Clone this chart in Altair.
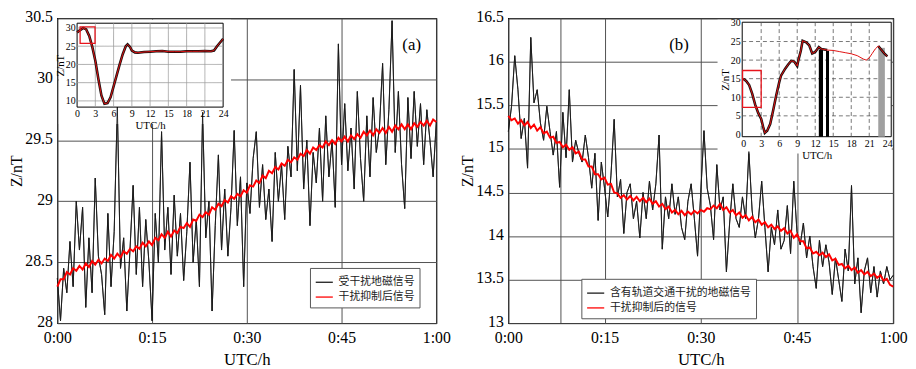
import altair as alt
import pandas as pd

SERIF = "Liberation Serif"
CJK = "Noto Sans CJK SC"

# ---------------- data ----------------
t_min = [i * 0.5 for i in range(121)]

a_labels = ["受干扰地磁信号", "干扰抑制后信号"]
b_labels = ["含有轨道交通干扰的地磁信号", "干扰抑制后的信号"]

a_black = [28.37, 28.02, 28.45, 28.25, 28.67, 28.3, 29.0, 28.6, 28.95, 28.13,
           28.7, 28.25, 29.19, 28.55, 28.4, 28.07, 28.9, 28.3, 28.75, 29.78,
           28.45, 28.7, 28.1, 28.6, 29.13, 28.4, 28.95, 28.3, 28.85, 28.5,
           28.02, 28.9, 28.5, 29.57, 28.6, 28.95, 28.4, 29.05, 28.55, 28.9,
           28.35, 28.75, 29.32, 28.5, 28.85, 28.3, 29.73, 28.7, 29.0, 28.1,
           28.8, 29.38, 28.6, 29.1, 28.55, 28.95, 29.58, 28.8, 29.2, 28.3,
           29.15, 28.9, 29.35, 29.57, 28.95, 29.3, 28.85, 29.1, 28.67, 29.4,
           29.0, 29.3, 28.85, 29.45, 29.2, 30.08, 29.25, 29.95, 29.1, 29.5,
           28.8, 29.4, 29.15, 29.6, 29.0, 29.7, 29.2, 29.5, 28.95, 30.29,
           29.3, 29.8, 29.25, 29.6, 29.1, 29.9, 29.35, 29.0, 29.7, 29.2,
           29.85, 29.4, 29.6, 30.13, 29.3, 29.75, 30.48, 29.4, 29.9, 29.3,
           28.94, 29.85, 29.35, 29.9, 29.45, 29.8, 29.3, 29.75, 29.5, 29.2,
           29.65]

a_red = [28.30, 28.36, 28.36, 28.42, 28.40, 28.45, 28.43, 28.47, 28.44, 28.49,
         28.46, 28.51, 28.48, 28.52, 28.49, 28.53, 28.51, 28.56, 28.53, 28.57,
         28.54, 28.59, 28.57, 28.61, 28.59, 28.63, 28.61, 28.66, 28.63, 28.67,
         28.64, 28.70, 28.68, 28.73, 28.70, 28.75, 28.71, 28.76, 28.74, 28.79,
         28.78, 28.82, 28.79, 28.85, 28.84, 28.89, 28.87, 28.91, 28.89, 28.95,
         28.93, 28.98, 28.96, 29.01, 28.99, 29.04, 29.02, 29.06, 29.04, 29.09,
         29.07, 29.13, 29.12, 29.17, 29.15, 29.21, 29.19, 29.25, 29.23, 29.28,
         29.26, 29.31, 29.29, 29.34, 29.32, 29.36, 29.34, 29.39, 29.37, 29.42,
         29.39, 29.44, 29.42, 29.46, 29.44, 29.49, 29.46, 29.50, 29.47, 29.52,
         29.49, 29.53, 29.49, 29.54, 29.51, 29.55, 29.52, 29.57, 29.54, 29.58,
         29.54, 29.59, 29.56, 29.60, 29.56, 29.61, 29.57, 29.62, 29.59, 29.63,
         29.59, 29.63, 29.59, 29.64, 29.61, 29.65, 29.62, 29.66, 29.62, 29.67,
         29.65]

b_black = [15.2, 15.49, 16.07, 15.68, 15.12, 15.35, 14.78, 16.28, 15.53, 15.68,
           15.3, 15.1, 15.49, 15.2, 14.93, 15.2, 14.56, 15.42, 14.9, 15.68,
           14.85, 15.1, 14.95, 14.85, 15.16, 14.9, 14.55, 14.95, 14.18, 14.85,
           14.55, 14.22, 14.7, 15.34, 14.45, 14.65, 14.03, 14.5, 14.6, 14.2,
           14.4, 13.98, 14.5, 14.2, 14.63, 14.3, 14.6, 15.16, 13.85, 14.45,
           14.2, 14.6, 14.25, 14.45, 14.1, 13.96, 14.4, 14.6, 14.2, 13.77,
           14.5, 15.21, 14.55, 14.35, 13.96, 14.82, 14.3, 14.45, 13.59, 14.15,
           14.6, 14.2, 14.1, 14.45, 14.2, 14.97, 14.3, 13.98, 14.2, 14.63,
           14.1, 13.59, 14.1, 13.9, 14.3, 13.85, 13.95, 14.35, 13.8, 14.63,
           14.05, 13.9, 14.15, 13.75, 14.0, 13.65, 13.4, 13.95, 13.65, 13.9,
           13.7, 13.33, 13.75, 13.5, 13.25, 13.85, 13.6, 14.58, 13.45, 13.75,
           13.12, 13.6, 13.75, 13.35, 13.65, 13.3, 13.6, 13.45, 13.65, 13.5,
           13.55]

b_red = [15.38, 15.33, 15.35, 15.29, 15.33, 15.27, 15.31, 15.24, 15.28, 15.21,
         15.25, 15.18, 15.20, 15.13, 15.14, 15.07, 15.08, 15.02, 15.05, 14.99,
         15.02, 14.95, 14.97, 14.88, 14.88, 14.80, 14.80, 14.71, 14.71, 14.65,
         14.67, 14.59, 14.60, 14.50, 14.49, 14.44, 14.47, 14.42, 14.46, 14.41,
         14.45, 14.40, 14.44, 14.39, 14.43, 14.37, 14.40, 14.34, 14.37, 14.31,
         14.34, 14.27, 14.30, 14.25, 14.29, 14.24, 14.28, 14.25, 14.29, 14.26,
         14.30, 14.28, 14.32, 14.31, 14.35, 14.32, 14.37, 14.30, 14.33, 14.27,
         14.30, 14.24, 14.27, 14.21, 14.24, 14.18, 14.22, 14.16, 14.19, 14.13,
         14.16, 14.10, 14.13, 14.08, 14.11, 14.06, 14.09, 14.03, 14.06, 13.98,
         14.02, 13.94, 13.94, 13.86, 13.87, 13.80, 13.82, 13.78, 13.81, 13.76,
         13.79, 13.72, 13.74, 13.67, 13.68, 13.63, 13.66, 13.61, 13.64, 13.58,
         13.61, 13.56, 13.59, 13.54, 13.57, 13.52, 13.55, 13.49, 13.51, 13.44,
         13.42]

# inset (a): whole day
ia_t = [0, 0.5, 1, 1.5, 2, 2.5, 3, 3.5, 4, 4.5, 5, 5.5, 6, 6.5, 7, 7.5, 8, 8.3, 8.7,
        9, 9.5, 10, 11, 12, 13, 14, 15, 16, 17, 18, 19, 20, 21, 22, 22.5, 23, 23.5, 24]
ia_z = [28.8, 29.4, 30.0, 29.6, 27.8, 24.8, 21.0, 16.0, 11.5, 9.2, 9.4, 11.0, 14.0,
        17.0, 20.0, 22.8, 25.0, 25.5, 24.8, 23.8, 23.3, 23.2, 23.4, 23.5, 23.6, 23.7,
        23.5, 23.5, 23.5, 23.6, 23.6, 23.6, 23.7, 23.6, 23.8, 25.0, 26.0, 27.0]
ia_box = {"x0": [0.5], "x1": [2.95], "y0": [25.8], "y1": [30.3]}

# inset (b): whole day
ib_t = [0, 0.5, 1, 1.5, 2, 2.5, 3, 3.3, 3.6, 4, 4.5, 5, 5.5, 6, 6.3, 7, 7.5, 8, 8.5,
        9, 9.2, 9.6, 9.9, 10.5, 11, 11.5, 12, 12.6, 13, 14, 15, 16, 17, 18, 19, 20,
        20.5, 21, 21.5, 22, 22.5, 23, 23.5, 24]
ib_z = [15.0, 14.4, 13.3, 11.0, 8.0, 5.8, 4.2, 2.2, 0.4, 1.0, 2.8, 6.5, 10.5, 14.0,
        15.8, 17.7, 18.8, 19.8, 19.6, 18.4, 20.0, 22.5, 25.2, 24.8, 24.0, 21.8, 22.2,
        23.5, 23.0, 22.7, 22.6, 22.3, 22.0, 21.7, 21.2, 20.3, 20.0, 20.6, 21.8, 23.0,
        23.8, 22.8, 21.8, 21.0]
ib_box = {"x0": [-0.1], "x1": [3.0], "y0": [7.3], "y1": [17.2]}
ib_bars = {"x0": [12.6, 13.8], "x1": [13.3, 14.3], "top": [22.8, 22.5]}
ib_gray = {"x0": [22.5], "x1": [23.6], "top": [23.3]}
b_extra_rule = [8.2]

W_A, W_B, H = 384, 390, 309


def minute_label():
    return ("datum.value == 60 ? '1:00' : (datum.value == 0 ? '0:00' : '0:' + datum.value)")


def main_layers(black, red, labels, ydom, yvals, legend_xy, white_box, tag, tag_tz,
                extra_rule=None):
    def xs():
        return alt.Scale(domain=[0, 60], nice=False, zero=False)

    def ys():
        return alt.Scale(domain=ydom, nice=False, zero=False)

    xax = alt.Axis(values=[0, 15, 30, 45, 60], labelExpr=minute_label(), orient="bottom",
                   grid=True, gridColor="#505050", gridWidth=1, ticks=False, domain=False,
                   labelFont=SERIF, labelFontSize=16, labelColor="black", labelPadding=7,
                   labelFlush=False, labelOverlap=False, title="UTC/h", titleFont=SERIF,
                   titleFontSize=17, titleFontWeight="normal", titleColor="black",
                   titlePadding=6)
    yax = alt.Axis(values=yvals, format=".1~f", orient="left", grid=True,
                   gridColor="#505050", gridWidth=1, ticks=False, domain=False,
                   labelFont=SERIF, labelFontSize=16, labelColor="black", labelPadding=5,
                   labelOffset=-2, labelOverlap=False, title="Z/nT", titleFont=SERIF,
                   titleFontSize=16, titleFontWeight="normal", titleColor="black",
                   titlePadding=0)
    cscale = alt.Scale(domain=labels, range=["#1a1a1a", "#ff0000"])
    leg = alt.Legend(title=None, orient="none", legendX=legend_xy[0], legendY=legend_xy[1],
                     symbolType="stroke", symbolSize=300, symbolStrokeWidth=1.3,
                     labelFont=CJK, labelFontSize=11, labelColor="#222",
                     fillColor="white", strokeColor="#555", padding=5, rowPadding=0,
                     labelOffset=5)
    df_b = pd.DataFrame({"t": t_min, "z": black, "s": labels[0]})
    df_r = pd.DataFrame({"t": t_min, "z": red, "s": labels[1]})
    layers = []
    # black line first: carries the main axes (with grid)
    layers.append(
        alt.Chart(df_b).mark_line(strokeWidth=0.9)
        .encode(x=alt.X("t:Q", scale=xs(), axis=xax), y=alt.Y("z:Q", scale=ys(), axis=yax),
                color=alt.Color("s:N", scale=cscale, legend=leg))
    )
    layers.append(
        alt.Chart(pd.DataFrame({"k": [0]})).mark_rect(fill="white", strokeOpacity=0)
        .encode(x=alt.value(white_box[0]), x2=alt.value(white_box[1]),
                y=alt.value(white_box[2]), y2=alt.value(white_box[3]))
    )
    if extra_rule is not None:
        layers.append(
            alt.Chart(pd.DataFrame({"t": extra_rule})).mark_rule(color="#505050", strokeWidth=1)
            .encode(x=alt.X("t:Q", scale=xs(), axis=None))
        )
    # redraw black line over the white box
    layers.append(
        alt.Chart(df_b).mark_line(strokeWidth=0.9)
        .encode(x=alt.X("t:Q", scale=xs(), axis=None), y=alt.Y("z:Q", scale=ys(), axis=None),
                color=alt.Color("s:N", scale=cscale, legend=leg))
    )
    layers.append(
        alt.Chart(df_r).mark_line(strokeWidth=2.0)
        .encode(x=alt.X("t:Q", scale=xs(), axis=None), y=alt.Y("z:Q", scale=ys(), axis=None),
                color=alt.Color("s:N", scale=cscale, legend=leg))
    )
    layers.append(
        alt.Chart(pd.DataFrame({"t": [tag_tz[0]], "z": [tag_tz[1]], "txt": [tag]}))
        .mark_text(font=SERIF, fontSize=17, color="black")
        .encode(x=alt.X("t:Q", scale=xs(), axis=None), y=alt.Y("z:Q", scale=ys(), axis=None),
                text="txt:N")
    )
    return layers


def inset_layers(t, z, black_df, xdom, xr, ydom, yr, xticks, yticks, xgrid, ygrid, dash,
                 gridcolor, box, bars=None, gray=None):
    def xs():
        return alt.Scale(domain=xdom, range=xr, nice=False, zero=False)

    def ys():
        return alt.Scale(domain=ydom, range=yr, nice=False, zero=False)

    xax = alt.Axis(values=xticks, orient="bottom", offset=yr[0] - H, grid=False,
                   ticks=False, domain=False, labelFont=SERIF, labelFontSize=10,
                   labelColor="black", labelPadding=2, labelFlush=False,
                   labelOverlap=False, title="UTC/h", titleFont=SERIF, titleFontSize=11,
                   titleFontWeight="normal", titleColor="black", titlePadding=1, zindex=1)
    yax = alt.Axis(values=yticks, orient="left", offset=-xr[0], grid=False, ticks=False,
                   domain=False, labelFont=SERIF, labelFontSize=10, labelColor="black",
                   labelPadding=2, labelOverlap=False, title="Z/nT", titleFont=SERIF,
                   titleFontSize=11, titleFontWeight="normal", titleColor="black",
                   titlePadding=0, zindex=1)
    layers = []
    layers.append(
        alt.Chart(pd.DataFrame({"k": [0]})).mark_rect(fill="white", stroke="black",
                                                       strokeWidth=1)
        .encode(x=alt.value(xr[0]), x2=alt.value(xr[1]), y=alt.value(yr[1]),
                y2=alt.value(yr[0]))
    )
    layers.append(
        alt.Chart(pd.DataFrame({"g": xgrid})).mark_rule(color=gridcolor, strokeWidth=0.8,
                                                      strokeDash=dash)
        .encode(x=alt.X("g:Q", scale=xs(), axis=None), y=alt.value(yr[1]), y2=alt.value(yr[0]))
    )
    layers.append(
        alt.Chart(pd.DataFrame({"g": ygrid})).mark_rule(color=gridcolor, strokeWidth=0.8,
                                                      strokeDash=dash)
        .encode(y=alt.Y("g:Q", scale=ys(), axis=None), x=alt.value(xr[0]), x2=alt.value(xr[1]))
    )
    if gray is not None:
        gdf = pd.DataFrame(gray)
        gdf["bot"] = ydom[0]
        layers.append(
            alt.Chart(gdf).mark_rect(color="#a0a0a0")
            .encode(x=alt.X("x0:Q", scale=xs(), axis=None), x2="x1:Q",
                    y=alt.Y("top:Q", scale=ys(), axis=None), y2="bot:Q")
        )
    if bars is not None:
        bdf = pd.DataFrame(bars)
        bdf["bot"] = ydom[0]
        layers.append(
            alt.Chart(bdf).mark_rect(color="black")
            .encode(x=alt.X("x0:Q", scale=xs(), axis=None), x2="x1:Q",
                    y=alt.Y("top:Q", scale=ys(), axis=None), y2="bot:Q")
        )
    layers.append(
        alt.Chart(black_df).mark_line(color="#1a1010", strokeWidth=2.6)
        .encode(x=alt.X("t:Q", scale=xs(), axis=xax), y=alt.Y("z:Q", scale=ys(), axis=yax),
                detail="seg:N")
    )
    layers.append(
        alt.Chart(pd.DataFrame({"t": t, "z": z})).mark_line(color="#e01010", strokeWidth=1)
        .encode(x=alt.X("t:Q", scale=xs(), axis=None), y=alt.Y("z:Q", scale=ys(), axis=None))
    )
    layers.append(
        alt.Chart(pd.DataFrame(box)).mark_rect(fillOpacity=0, stroke="#e8141c",
                                               strokeWidth=1.3)
        .encode(x=alt.X("x0:Q", scale=xs(), axis=None), x2="x1:Q",
                y=alt.Y("y0:Q", scale=ys(), axis=None), y2="y1:Q")
    )
    return layers


# ---------- panel (a) ----------
la = main_layers(a_black, a_red, a_labels, [28, 30.5],
                 [28, 28.5, 29, 29.5, 30, 30.5], (256, 253), (1.5, 176, 1.5, 107),
                 "(a)", (56.1, 30.28))
ia_black = pd.DataFrame({"t": ia_t, "z": ia_z, "seg": 0})
la += inset_layers(ia_t, ia_z, ia_black, [0, 24], [20, 168], [8.3, 31.3], [90, 5],
                   list(range(0, 25, 3)), [10, 15, 20, 25, 30], list(range(3, 22, 3)),
                   [10, 15, 20, 25, 30], [1, 0], "#9a9a9a", ia_box)
panel_a = alt.layer(*la).resolve_scale(
    x="independent", y="independent", color="shared").properties(width=W_A, height=H)

# ---------- panel (b) ----------
lb = main_layers(b_black, b_red, b_labels, [13, 16.5],
                 [13, 13.5, 14, 14.5, 15, 15.5, 16, 16.5], (74, 264),
                 (212, 388.5, 1.5, 137), "(b)", (26.6, 16.19), extra_rule=b_extra_rule)
ib_df = pd.DataFrame({"t": ib_t, "z": ib_z})
ib_black = pd.concat([
    ib_df[ib_df["t"] <= 14.5].assign(seg=0),
    ib_df[ib_df["t"] >= 22.5].assign(seg=1),
])
lb += inset_layers(ib_t, ib_z, ib_black, [-0.16, 24.66], [237, 388], [-0.61, 30.19],
                   [120, 4], list(range(0, 25, 3)), [0, 5, 10, 15, 20, 25, 30],
                   list(range(3, 22, 3)), [5, 10, 15, 20, 25], [4, 3], "#555555",
                   ib_box, bars=ib_bars, gray=ib_gray)
panel_b = alt.layer(*lb).resolve_scale(
    x="independent", y="independent", color="shared").properties(width=W_B, height=H)

chart = alt.hconcat(panel_a, panel_b, spacing=8).resolve_scale(
    x="independent", y="independent", color="independent"
).properties(
    padding={"left": 0, "top": -3, "right": 0, "bottom": 0}, background="white"
).configure_view(stroke="black", strokeWidth=1.2)

chart.save("out.html", embed_options={"renderer": "svg", "actions": False})
